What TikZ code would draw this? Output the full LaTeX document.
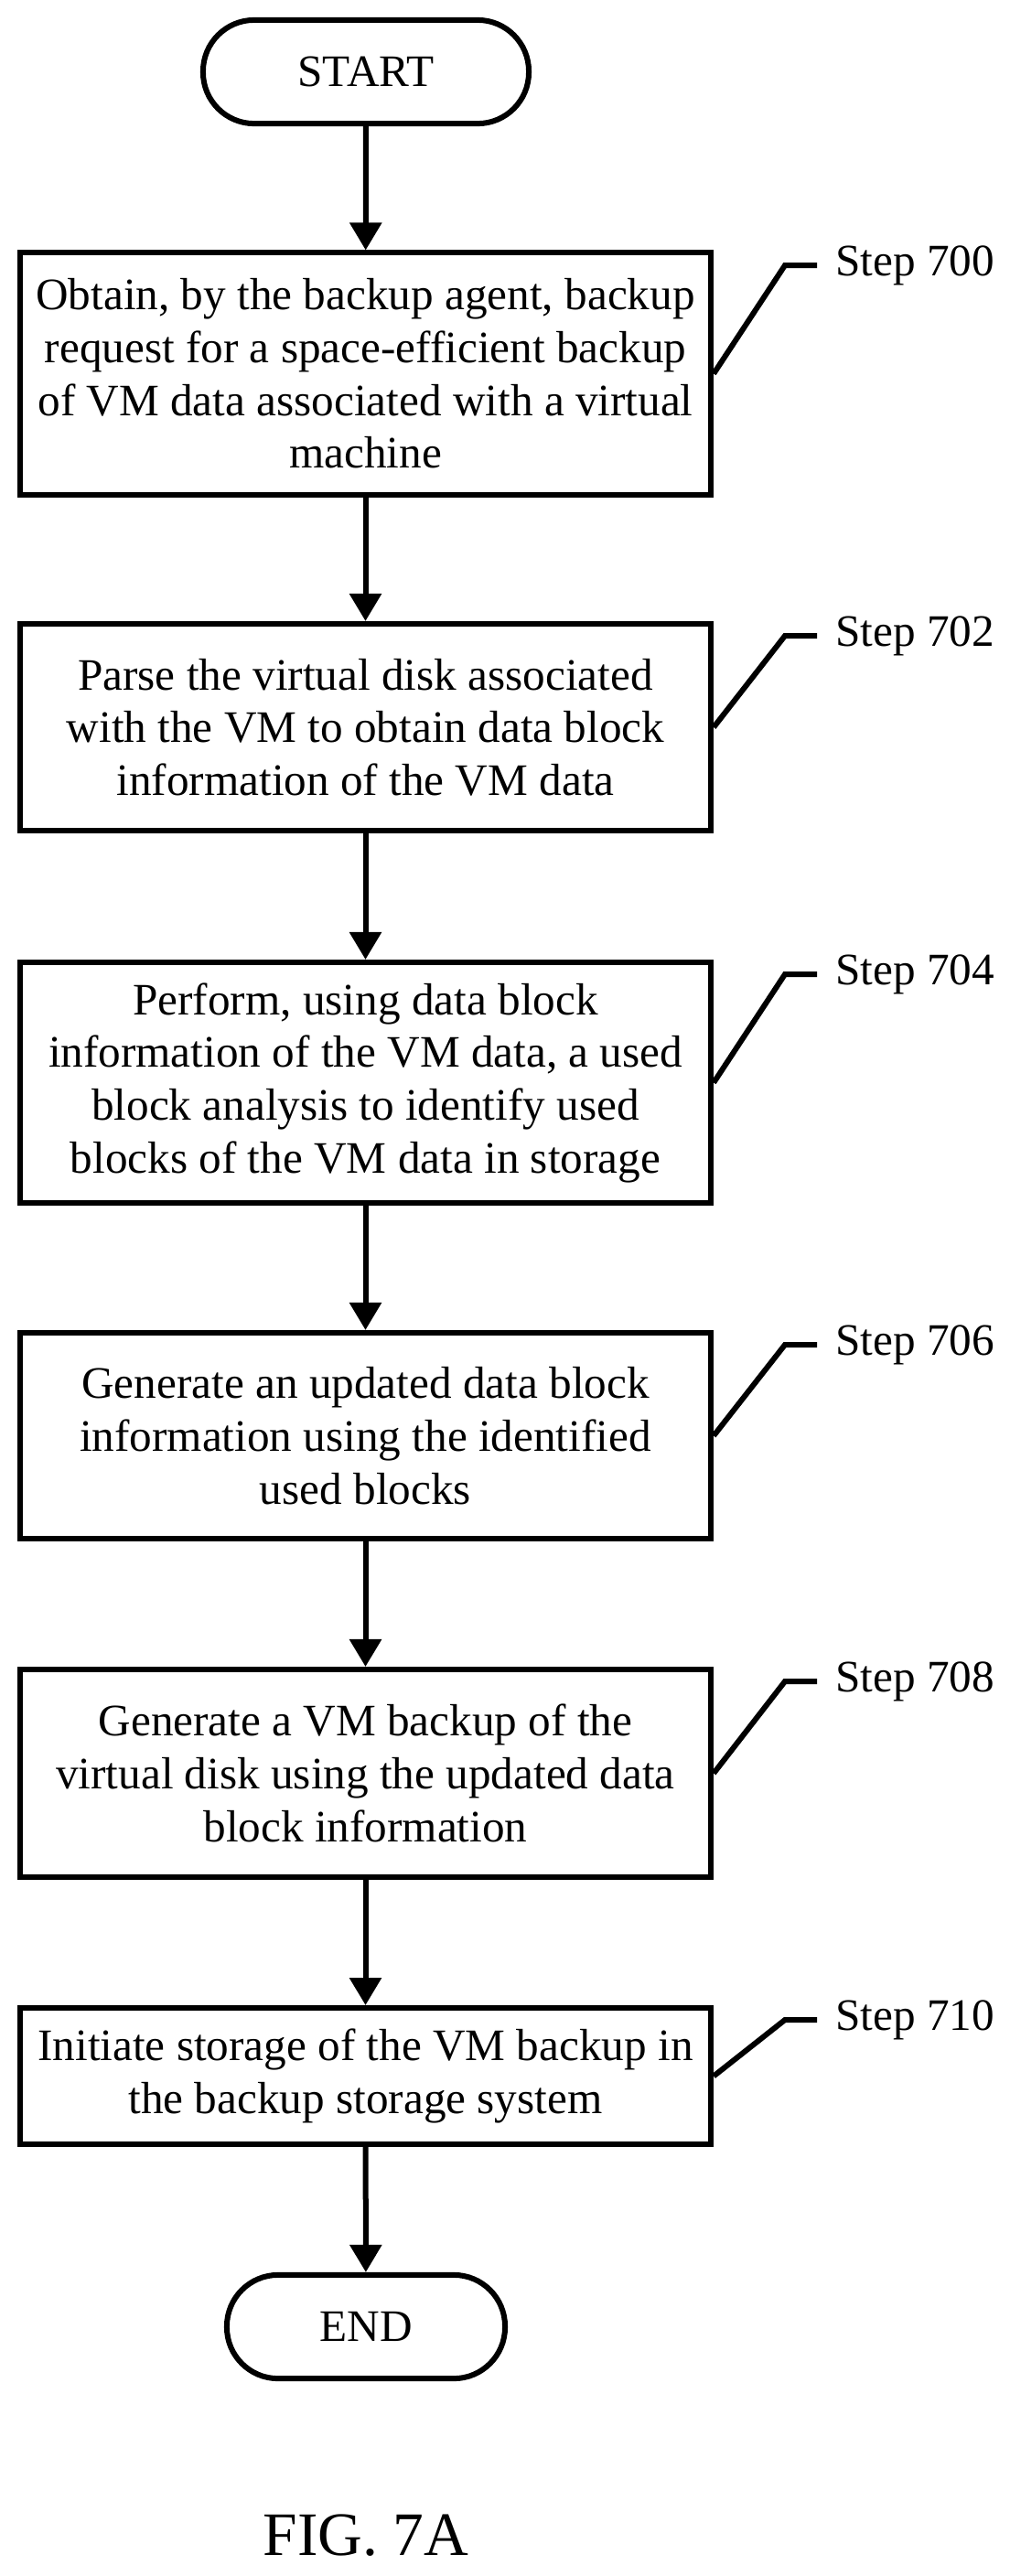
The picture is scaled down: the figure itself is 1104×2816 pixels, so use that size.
\documentclass[tikz,border=0pt]{standalone}
\usepackage{fontspec}
\setmainfont{Liberation Serif}
\usetikzlibrary{arrows.meta}
\tikzset{
  lepes/.style={draw, line width=0.15cm, align=center, font=\fontsize{35}{41}\selectfont,
    minimum width=18.875cm, inner sep=0pt},
  vegpont/.style={draw, line width=0.15cm, rounded corners=1.4cm, minimum height=2.83cm,
    font=\fontsize{35}{41}\selectfont},
  nyil/.style={line width=0.15cm, -{Triangle[width=0.85cm,length=0.75cm]}},
  jelolo/.style={line width=0.15cm},
  lepesszam/.style={anchor=west, font=\fontsize{35}{41}\selectfont, inner sep=0pt}
}
\begin{document}
\begin{tikzpicture}[x=0.025cm,y=-0.025cm]
        % A kép kerete
        \useasboundingbox (0,0) rectangle (1104,2816);
        % Kezdő és záró csomópontok
        \node[vegpont, minimum width=8.9cm] (start) at (400,78.5) {START};
        \node[vegpont, minimum width=7.6cm] (end) at (400,2543.5) {END};
        % A lépések dobozai
        \node[lepes, minimum height=6.6cm] (s700) at (399.5,408.5) {Obtain, by the backup agent, backup\\request for a space-efficient backup\\of VM data associated with a virtual\\machine};
        \node[lepes, minimum height=5.65cm] (s702) at (399.5,795) {Parse the virtual disk associated\\with the VM to obtain data block\\information of the VM data};
        \node[lepes, minimum height=6.575cm] (s704) at (399.5,1183.5) {Perform, using data block\\information of the VM data, a used\\block analysis to identify used\\blocks of the VM data in storage};
        \node[lepes, minimum height=5.625cm] (s706) at (399.5,1569.5) {Generate an updated data block\\information using the identified\\used blocks};
        \node[lepes, minimum height=5.675cm] (s708) at (399.5,1938.5) {Generate a VM backup of the\\virtual disk using the updated data\\block information};
        \node[lepes, minimum height=3.725cm] (s710) at (399.5,2269.5) {Initiate storage of the VM backup in\\the backup storage system};
        % Nyilak a lépések között
        \draw[nyil] (start) -- (s700);
        \draw[nyil] (s700) -- (s702);
        \draw[nyil] (s702) -- (s704);
        \draw[nyil] (s704) -- (s706);
        \draw[nyil] (s706) -- (s708);
        \draw[nyil] (s708) -- (s710);
        \draw[nyil] (s710) -- (end);
        % Lépésszámok a jelölő vonalakkal
        \foreach \nev/\felso/\szam in {s700/277/700, s702/682/702, s704/1052/704, s706/1457/706, s708/1825/708, s710/2195/710} {
          \coordinate (t\nev) at (858,\felso+13);
          \coordinate (v\nev) at (893,\felso+13);
          \draw[jelolo] (\nev.east) -- (t\nev) -- (v\nev);
          \node[lepesszam] (c\nev) at (913,\felso+13) {Step \szam};
        }
        % Az ábra felirata
        \node[font=\fontsize{48}{56}\selectfont] (fig) at (400,2772) {FIG. 7A};
    \end{tikzpicture}
\end{document}
